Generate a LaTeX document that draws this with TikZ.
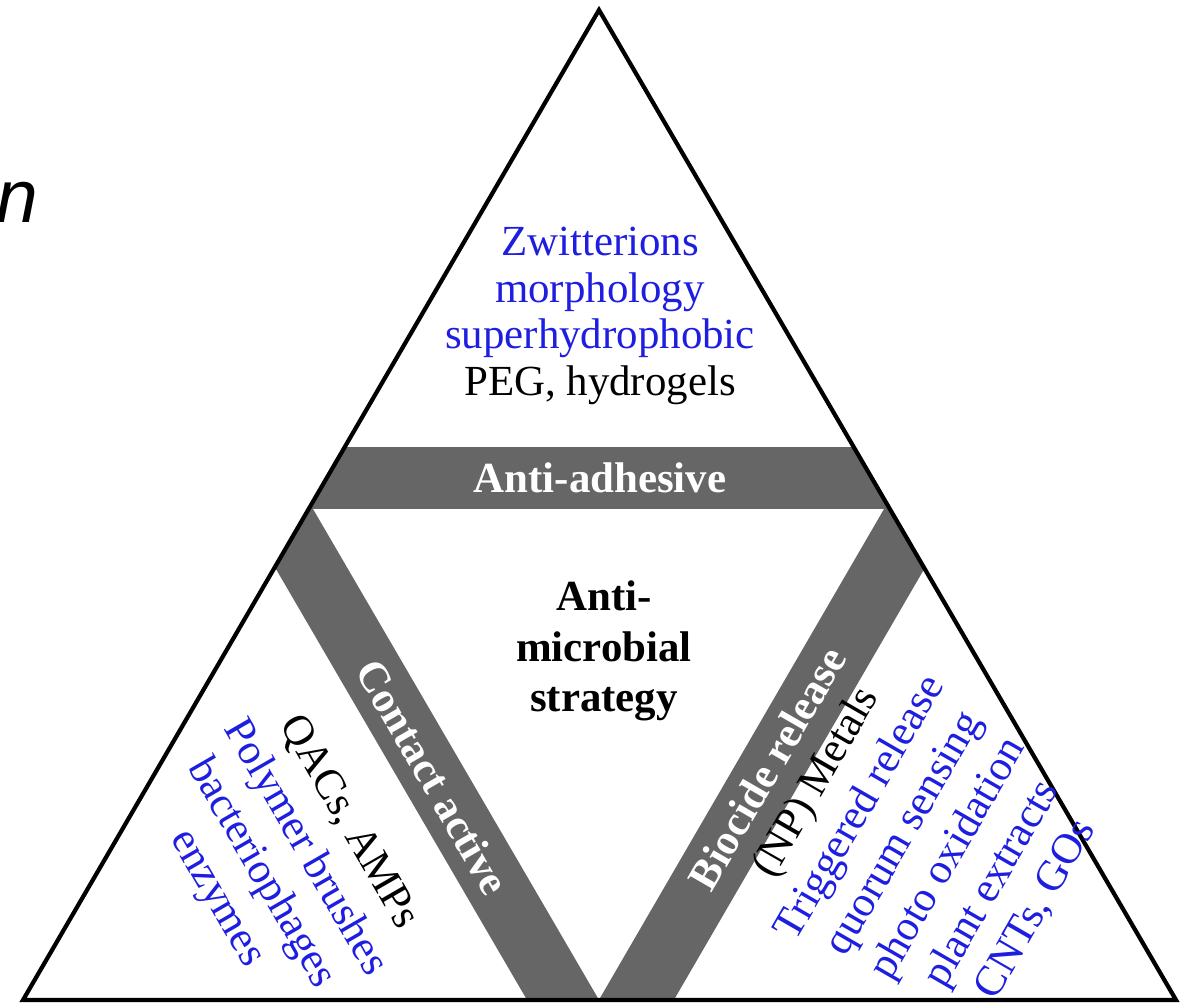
\documentclass[tikz,border=0pt]{standalone}
\usepackage{fontspec}
\setmainfont{Liberation Serif}
\newfontfamily\cutsans{Liberation Sans}
\usetikzlibrary{positioning}
\definecolor{bandgray}{RGB}{102,102,102}
\definecolor{itemblue}{RGB}{30,30,225}
\newcommand{\bl}{\color{itemblue}}

\begin{document}
\begin{tikzpicture}[x=0.01cm,y=-0.01cm,
  band/.style={fill=bandgray},
  bandlabel/.style={text=white,font=\fontsize{12.2}{14.4}\selectfont\bfseries,inner sep=0pt},
  items/.style={font=\fontsize{12.2}{14.4}\selectfont,align=center,inner sep=0pt}]
\useasboundingbox (0,0) rectangle (1183,1003);
\coordinate (apex) at (599,10);
\coordinate (lcorner) at (23,1000);
\coordinate (rcorner) at (1176,1000);
% grey bands
\begin{scope}
\clip (apex) -- (lcorner) -- (rcorner) -- cycle;
\fill[band] (0,447) rectangle (1183,509);
\fill[band] (634,1060) -- (313,509) -- (241,509) -- (562,1060) -- cycle;
\fill[band] (564,1060) -- (884,509) -- (959,509) -- (639,1060) -- cycle;
\end{scope}
\draw[line width=1.2pt,line join=miter] (apex) -- (lcorner) -- (rcorner) -- cycle;
% texts
\node[items,font=\fontsize{12.2}{13.3}\selectfont] (adhesiveitems) at (600,316) {\bl Zwitterions\\\bl morphology\\\bl superhydrophobic\\PEG, hydrogels};
\node[bandlabel] (adhesive) at (600,478) {Anti-adhesive};
\node[items,font=\fontsize{12.2}{14.4}\selectfont\bfseries] (strategy) at (604,651) {Anti-\\microbial\\strategy};
\node[bandlabel,rotate=-60] (contact) at (433,777) {Contact active};
\node[items,rotate=-60] (contactitems) at (282,861) {QACs, AMPs\\\bl Polymer brushes\\\bl bacteriophages\\\bl enzymes};
\node[bandlabel,rotate=60] (release) at (767,768) {Biocide release};
\node[items,rotate=60] (releaseitems) at (926,846) {(NP) Metals\\\bl Triggered release\\\bl quorum sensing\\\bl photo oxidation\\\bl plant extracts\\\bl CNTs, GOs};
\node[font=\cutsans\itshape\fontsize{21.3}{24}\selectfont,anchor=base west,inner sep=0pt] (cut) at (-4,222) {n};
\end{tikzpicture}
\end{document}
